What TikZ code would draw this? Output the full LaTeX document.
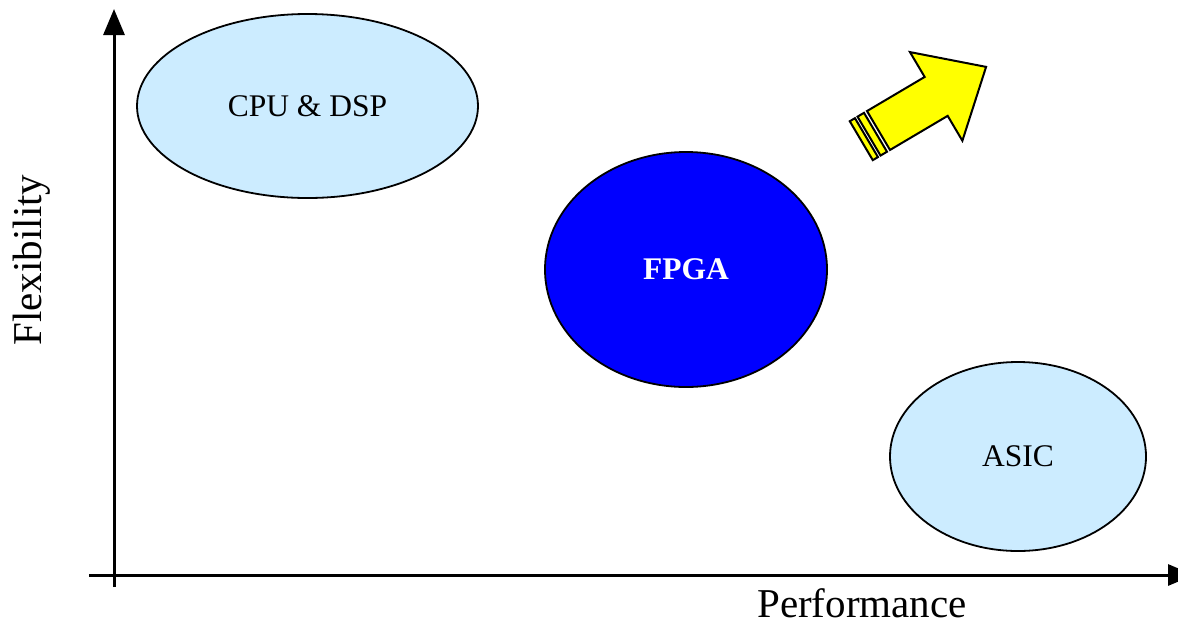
\documentclass[tikz,border=0pt]{standalone}
\usepackage{fontspec}
\setmainfont{Liberation Serif}
\usetikzlibrary{arrows.meta,shapes.geometric}
\definecolor{paleblue}{RGB}{204,236,255}
\definecolor{fpgablue}{RGB}{0,0,255}
\definecolor{arrowyellow}{RGB}{255,255,0}
\tikzset{
  axis/.style={line width=3pt,-{Triangle[length=26pt,width=21pt]}},
  blob/.style={ellipse,draw=black,line width=1.8pt,inner sep=0pt,font=\fontsize{31.5}{34}\selectfont},
  axislabel/.style={font=\fontsize{41}{46}\selectfont,inner sep=0pt},
  bigarrow/.style={fill=arrowyellow,draw=black,line width=2pt,line join=miter},
}
\begin{document}
\begin{tikzpicture}[x=1pt,y=-1pt]
\useasboundingbox (0,0) rectangle (1178,625);
% axes
\coordinate (xstart) at (89,575);
\coordinate (xend) at (1194,575);
\coordinate (ystart) at (114,587);
\coordinate (yend) at (114,9);
\draw[axis] (xstart) -- (xend);
\draw[axis] (ystart) -- (yend);
\node[axislabel,rotate=90] (flex) at (32,260) {Flexibility};
\node[axislabel] (perf) at (862,603) {Performance};
% technology regions
\node[blob,fill=paleblue,minimum width=341pt,minimum height=184pt] (cpu) at (307.5,106) {CPU \& DSP};
\node[blob,fill=fpgablue,text=white,font=\fontsize{31.5}{34}\selectfont\bfseries,minimum width=282pt,minimum height=235pt] (fpga) at (686,269.5) {FPGA};
\node[blob,fill=paleblue,minimum width=256pt,minimum height=189pt] (asic) at (1018,456.5) {ASIC};
% striped trend arrow
\begin{scope}[shift={(878.5,130.5)},rotate=30.6]
  \draw[bigarrow] (0,-22.6) -- (67,-22.6) -- (67,-51.5) -- (125,0) -- (67,51.5) -- (67,22.6) -- (0,22.6) -- cycle;
  \draw[bigarrow] (-11,-22.6) rectangle (-3.5,22.6);
  \draw[bigarrow] (-20,-22.6) rectangle (-14,22.6);
\end{scope}
\end{tikzpicture}
\end{document}
